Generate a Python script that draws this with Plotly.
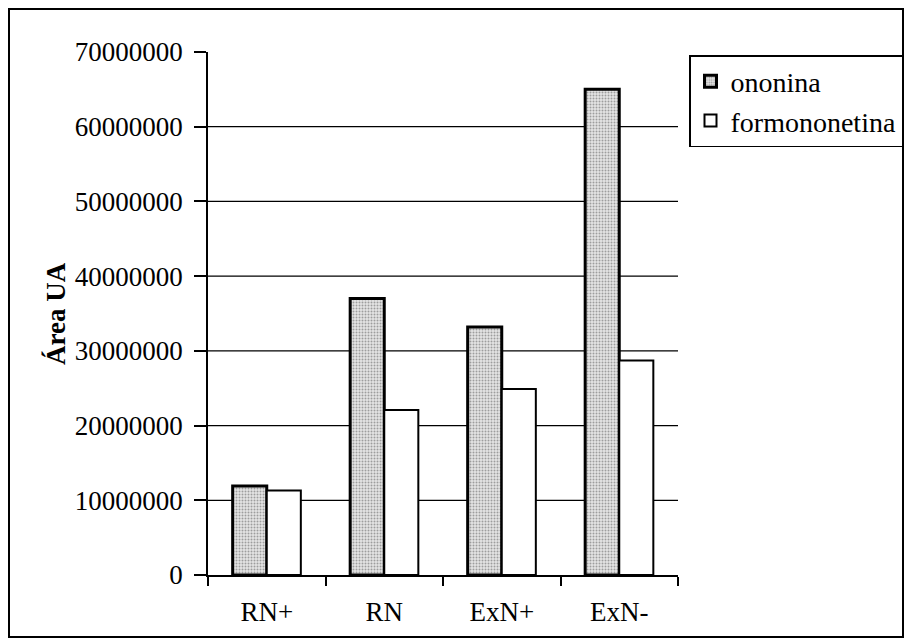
import plotly.graph_objects as go

categories = ["RN+", "RN", "ExN+", "ExN-"]
ononina = [11900000, 37000000, 33200000, 65000000]
formononetina = [11300000, 22100000, 24900000, 28700000]
y_ticks = [0, 10000000, 20000000, 30000000, 40000000, 50000000, 60000000, 70000000]

FONT = "Liberation Serif, Times New Roman, serif"

# page body has an 8px margin, so figure coords = screen coords - 8
OFF = 8
FW, FH = 912 - 2 * OFF, 641 - OFF
L, R, T, B = 208 - OFF, 678 - OFF, 52 - OFF, 575 - OFF
W, H = R - L, B - T
def px(x):
    return (x - OFF - L) / W
def py(y):
    return (B - (y - OFF)) / H

fig = go.Figure()
fig.add_trace(go.Bar(
    x=categories, y=ononina, name="ononina",
    marker=dict(color="#d8d8d8", line=dict(color="black", width=3),
                pattern=dict(shape=".", fgcolor="#555555", bgcolor="#e4e4e4",
                             size=3, solidity=0.35, fillmode="overlay")),
))
fig.add_trace(go.Bar(
    x=categories, y=formononetina, name="formononetina",
    marker=dict(color="white", line=dict(color="black", width=2)),
))

# horizontal gridlines (not at the top value)
for v in y_ticks[1:-1]:
    fig.add_shape(type="line", xref="paper", yref="y", x0=0, x1=1, y0=v, y1=v,
                  line=dict(color="black", width=1.2), layer="below")

# outer frame
fig.add_shape(type="rect", xref="paper", yref="paper",
              x0=px(9), x1=px(903), y0=py(637), y1=py(9),
              line=dict(color="black", width=2), fillcolor="rgba(0,0,0,0)")

fig.add_annotation(text="<b>Área UA</b>", xref="paper", yref="paper",
                   x=px(56), y=py(314), xanchor="center", yanchor="middle",
                   textangle=-90, showarrow=False,
                   font=dict(family=FONT, size=27, color="black"))

fig.update_layout(
    width=FW, height=FH,
    margin=dict(l=L, r=FW - R, t=T, b=FH - B, autoexpand=False),
    paper_bgcolor="white", plot_bgcolor="white",
    barmode="group", bargap=0.42, bargroupgap=0,
    font=dict(family=FONT, size=27, color="black"),
    showlegend=True,
    legend=dict(x=px(689), y=py(55), xanchor="left", yanchor="top",
                bordercolor="black", borderwidth=1.5, bgcolor="white",
                font=dict(family=FONT, size=28, color="black"),
                itemwidth=30, tracegroupgap=0),
)
fig.update_xaxes(showline=True, linecolor="black", linewidth=1.5,
                 ticks="outside", tickson="boundaries", ticklen=9,
                 tickcolor="black", tickwidth=1.5, ticklabelstandoff=12,
                 showgrid=False, tickfont=dict(family=FONT, size=27))
fig.update_yaxes(range=[0, 70000000], tickvals=y_ticks, tickformat="d",
                 showline=True, linecolor="black", linewidth=1.5,
                 ticks="outside", ticklen=12, tickcolor="black", tickwidth=1.5,
                 showgrid=False, zeroline=False, ticklabelstandoff=6,
                 tickfont=dict(family=FONT, size=27))

fig.write_html("out.html")
